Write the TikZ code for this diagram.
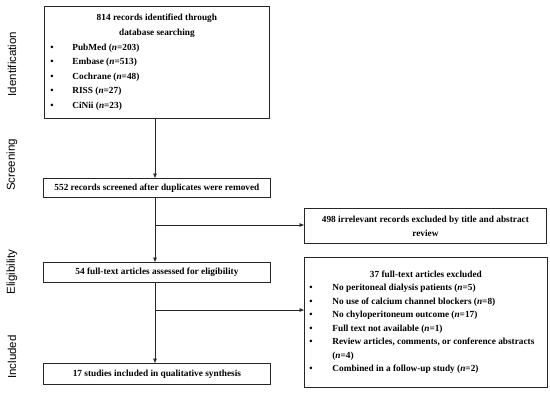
\documentclass[tikz,border=0pt]{standalone}
\usepackage{fontspec}
\setmainfont{Liberation Serif}
\newfontfamily\lblfont{Liberation Sans}
\usetikzlibrary{arrows.meta}
\newcommand{\bul}[1]{\makebox[#1][l]{\textbullet}}
\newcommand{\itm}[2]{\par\noindent\hangindent=#1\hangafter=1\bul{#1}#2}
\begin{document}
\begin{tikzpicture}[x=1pt,y=-1pt,
  box/.style={draw=black!85,line width=0.8pt,anchor=north west,inner sep=0pt,font=\fontsize{9.3}{14}\selectfont\bfseries,align=center},
  arr/.style={draw=black!85,line width=0.8pt,-{Triangle[length=4.5pt,width=3.5pt]}},
  lbl/.style={rotate=90,font=\lblfont\fontsize{11.5}{13}\selectfont}]
\useasboundingbox (0,0) rectangle (550,400);
% left stage labels
\node[lbl] (lid) at (12,64) {Identification};
\node[lbl] (lsc) at (12,165) {Screening};
\node[lbl] (lel) at (12,272) {Eligibility};
\node[lbl] (lin) at (12,357) {Included};
% boxes
\node[box,minimum width=225pt,minimum height=112pt,align=left] (b1) at (44,6)
 {\parbox[c][112pt][c]{213pt}{\fontsize{9.3}{14.6}\selectfont\bfseries\parindent=0pt
  {\centering 814 records identified through\\ database searching\par}
  \itm{22pt}{PubMed (\textit{n}=203)}
  \itm{22pt}{Embase (\textit{n}=513)}
  \itm{22pt}{Cochrane (\textit{n}=48)}
  \itm{22pt}{RISS (\textit{n}=27)}
  \itm{22pt}{CiNii (\textit{n}=23)}\par}};
\node[box,minimum width=227pt,minimum height=19pt] (b2) at (43,178)
 {552 records screened after duplicates were removed};
\node[box,minimum width=242pt,minimum height=35pt] (b3) at (304,208)
 {498 irrelevant records excluded by title and abstract\\review};
\node[box,minimum width=227pt,minimum height=20pt] (b4) at (43,262)
 {54 full-text articles assessed for eligibility};
\node[box,minimum width=243pt,minimum height=130pt,align=left] (b5) at (304,257)
 {\parbox[c][130pt][c]{233pt}{\fontsize{9.3}{13.5}\selectfont\bfseries\parindent=0pt
  {\centering 37 full-text articles excluded\par}
  \itm{23pt}{No peritoneal dialysis patients (\textit{n}=5)}
  \itm{23pt}{No use of calcium channel blockers (\textit{n}=8)}
  \itm{23pt}{No chyloperitoneum outcome (\textit{n}=17)}
  \itm{23pt}{Full text not available (\textit{n}=1)}
  \itm{23pt}{Review articles, comments, or conference abstracts\\(\textit{n}=4)}
  \itm{23pt}{Combined in a follow-up study (\textit{n}=2)}\par}};
\node[box,minimum width=227pt,minimum height=21pt] (b6) at (43,363)
 {17 studies included in qualitative synthesis};
% connectors
\coordinate (j1) at (155,225);
\coordinate (j2) at (155,310);
\draw[arr] (b1.south -| j1) -- (b2.north -| j1);
\draw[arr] (b2.south -| j1) -- (b4.north -| j1);
\draw[arr] (b4.south -| j1) -- (b6.north -| j1);
\draw[arr] (j1) -- (b3.west |- j1);
\draw[arr] (j2) -- (b5.west |- j2);
\end{tikzpicture}
\end{document}
